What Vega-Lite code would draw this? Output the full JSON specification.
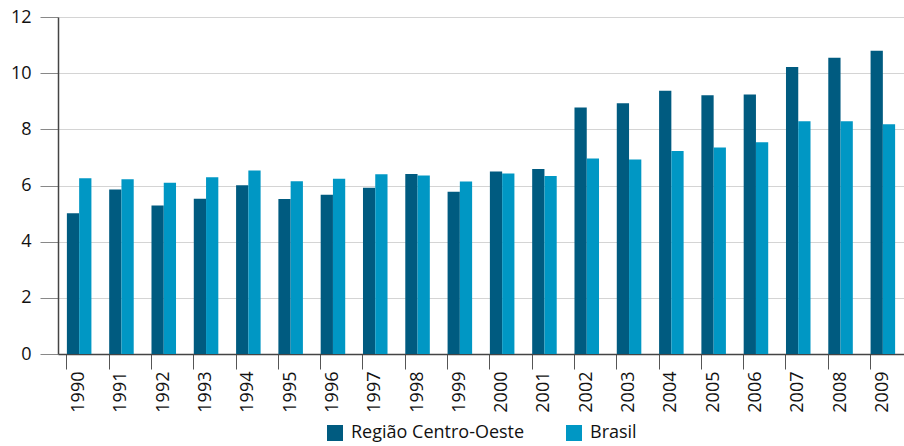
{
  "$schema": "https://vega.github.io/schema/vega-lite/v6.json",
  "width": 846,
  "height": 337,
  "autosize": {"type": "none"},
  "padding": {"left": 58, "top": 17, "right": 0, "bottom": 92},
  "config": {
    "view": {"stroke": null},
    "font": "Open Sans",
    "axis": {"labelFont": "Open Sans", "labelColor": "#111111"},
    "legend": {"labelFont": "Open Sans"}
  },
  "data": {
    "values": [
      {"ano": "1990", "serie": "Região Centro-Oeste", "valor": 5.01},
      {"ano": "1990", "serie": "Brasil", "valor": 6.26},
      {"ano": "1991", "serie": "Região Centro-Oeste", "valor": 5.86},
      {"ano": "1991", "serie": "Brasil", "valor": 6.22},
      {"ano": "1992", "serie": "Região Centro-Oeste", "valor": 5.29},
      {"ano": "1992", "serie": "Brasil", "valor": 6.10},
      {"ano": "1993", "serie": "Região Centro-Oeste", "valor": 5.53},
      {"ano": "1993", "serie": "Brasil", "valor": 6.29},
      {"ano": "1994", "serie": "Região Centro-Oeste", "valor": 6.01},
      {"ano": "1994", "serie": "Brasil", "valor": 6.53},
      {"ano": "1995", "serie": "Região Centro-Oeste", "valor": 5.52},
      {"ano": "1995", "serie": "Brasil", "valor": 6.15},
      {"ano": "1996", "serie": "Região Centro-Oeste", "valor": 5.67},
      {"ano": "1996", "serie": "Brasil", "valor": 6.24},
      {"ano": "1997", "serie": "Região Centro-Oeste", "valor": 5.92},
      {"ano": "1997", "serie": "Brasil", "valor": 6.40},
      {"ano": "1998", "serie": "Região Centro-Oeste", "valor": 6.41},
      {"ano": "1998", "serie": "Brasil", "valor": 6.36},
      {"ano": "1999", "serie": "Região Centro-Oeste", "valor": 5.78},
      {"ano": "1999", "serie": "Brasil", "valor": 6.14},
      {"ano": "2000", "serie": "Região Centro-Oeste", "valor": 6.50},
      {"ano": "2000", "serie": "Brasil", "valor": 6.43},
      {"ano": "2001", "serie": "Região Centro-Oeste", "valor": 6.59},
      {"ano": "2001", "serie": "Brasil", "valor": 6.34},
      {"ano": "2002", "serie": "Região Centro-Oeste", "valor": 8.78},
      {"ano": "2002", "serie": "Brasil", "valor": 6.96},
      {"ano": "2003", "serie": "Região Centro-Oeste", "valor": 8.93},
      {"ano": "2003", "serie": "Brasil", "valor": 6.93},
      {"ano": "2004", "serie": "Região Centro-Oeste", "valor": 9.37},
      {"ano": "2004", "serie": "Brasil", "valor": 7.23},
      {"ano": "2005", "serie": "Região Centro-Oeste", "valor": 9.21},
      {"ano": "2005", "serie": "Brasil", "valor": 7.35},
      {"ano": "2006", "serie": "Região Centro-Oeste", "valor": 9.24},
      {"ano": "2006", "serie": "Brasil", "valor": 7.54},
      {"ano": "2007", "serie": "Região Centro-Oeste", "valor": 10.22},
      {"ano": "2007", "serie": "Brasil", "valor": 8.29},
      {"ano": "2008", "serie": "Região Centro-Oeste", "valor": 10.55},
      {"ano": "2008", "serie": "Brasil", "valor": 8.29},
      {"ano": "2009", "serie": "Região Centro-Oeste", "valor": 10.80},
      {"ano": "2009", "serie": "Brasil", "valor": 8.18}
    ]
  },
  "mark": {"type": "bar"},
  "encoding": {
    "x": {
      "field": "ano",
      "type": "ordinal",
      "title": null,
      "scale": {"paddingInner": 0.42, "paddingOuter": 0.21},
      "axis": {
        "labelAngle": -90,
        "labelFontSize": 18,
        "labelPadding": 2,
        "tickSize": 15,
        "tickColor": "#555555",
        "domainColor": "#444444",
        "domainWidth": 1.5,
        "bandPosition": 0,
        "grid": false
      }
    },
    "xOffset": {"field": "serie", "sort": ["Região Centro-Oeste", "Brasil"]},
    "y": {
      "field": "valor",
      "type": "quantitative",
      "title": null,
      "scale": {"domain": [0, 12]},
      "axis": {
        "values": [0, 2, 4, 6, 8, 10, 12],
        "labelFontSize": 18,
        "labelPadding": 9,
        "tickSize": 18,
        "tickColor": "#888888",
        "domainColor": "#444444",
        "domainWidth": 1.5,
        "gridColor": "#d4d4d4",
        "grid": true
      }
    },
    "color": {
      "field": "serie",
      "type": "nominal",
      "title": null,
      "sort": ["Região Centro-Oeste", "Brasil"],
      "scale": {"domain": ["Região Centro-Oeste", "Brasil"], "range": ["#005b80", "#0097c4"]},
      "legend": {
        "orient": "none",
        "legendX": 268,
        "legendY": 407,
        "direction": "horizontal",
        "symbolType": "square",
        "symbolSize": 256,
        "symbolStrokeWidth": 0,
        "labelFontSize": 18,
        "labelLimit": 400,
        "labelOffset": 7,
        "labelColor": "#111111",
        "columnPadding": 40
      }
    }
  }
}
